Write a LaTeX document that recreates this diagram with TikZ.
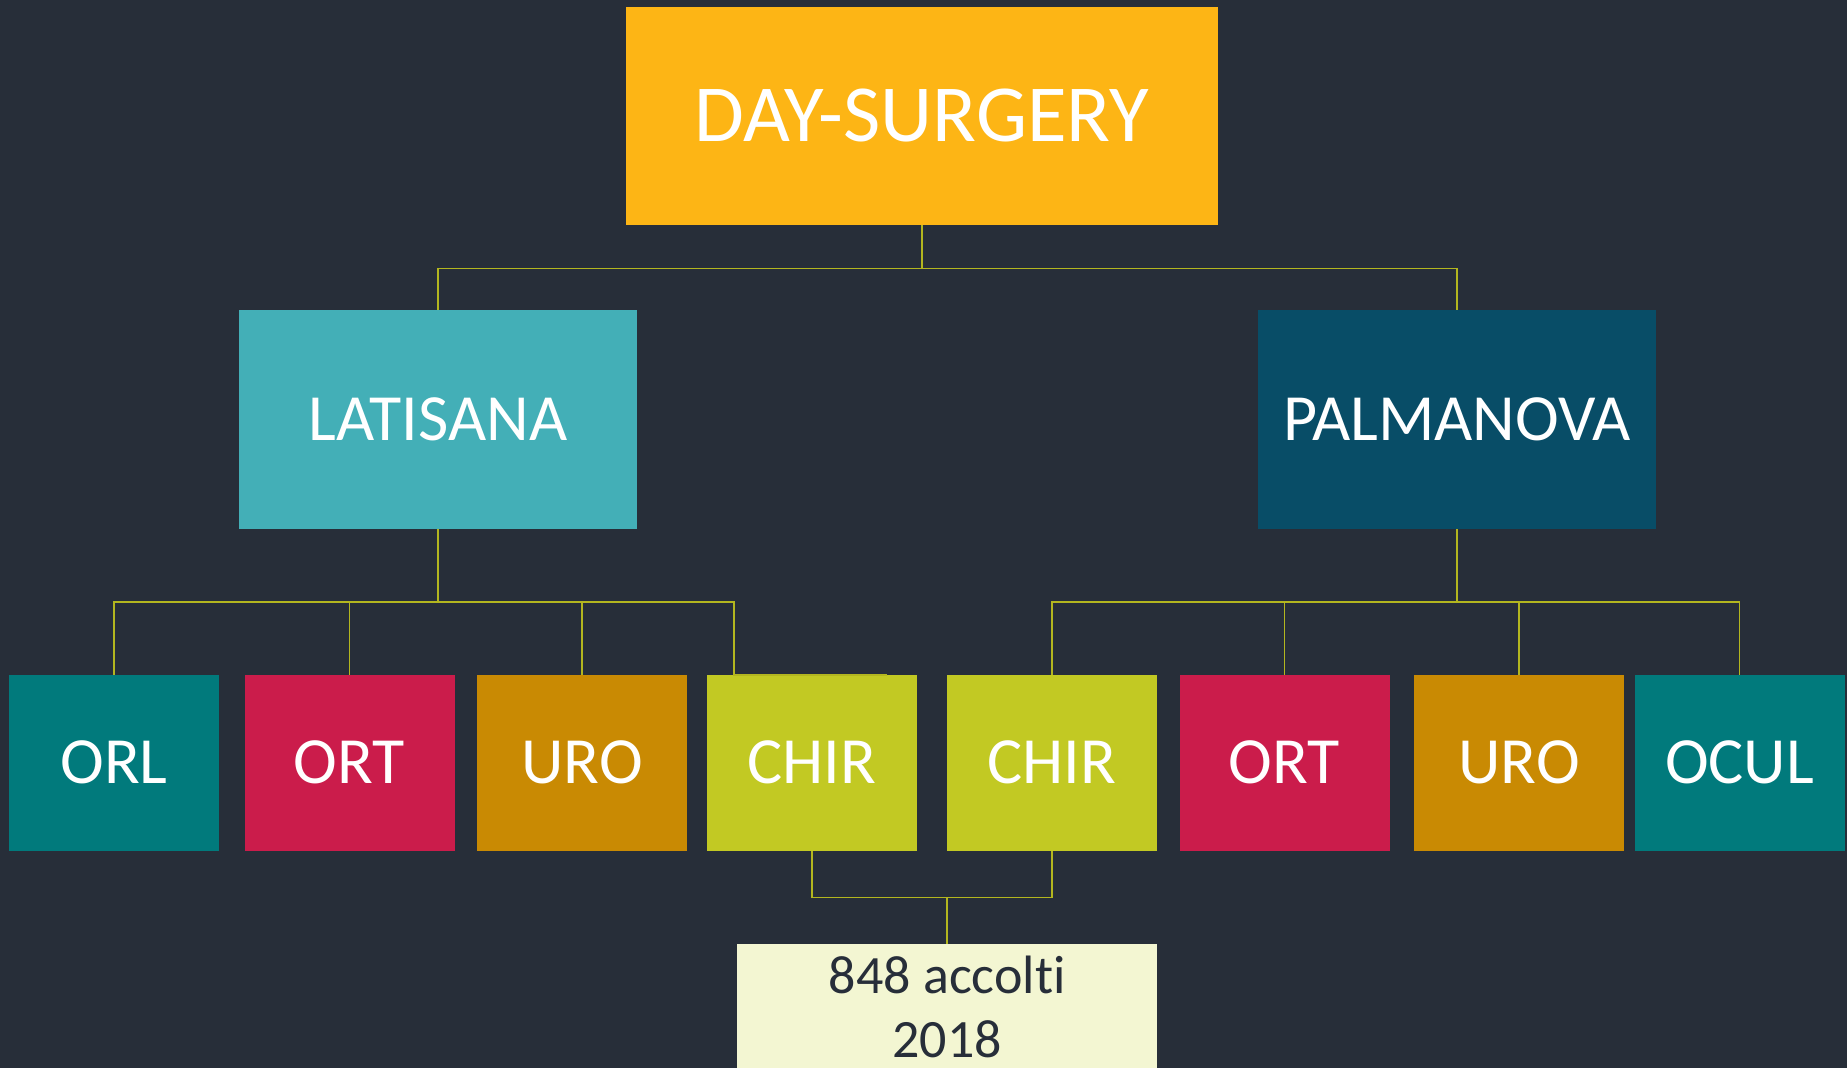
\documentclass[tikz,border=0pt]{standalone}
\usepackage{fontspec}
\setmainfont[Ligatures=NoCommon]{Carlito}
\definecolor{bg}{HTML}{272E39}
\definecolor{dayc}{HTML}{FDB515}
\definecolor{latc}{HTML}{43AFB7}
\definecolor{palc}{HTML}{084D67}
\definecolor{tealc}{HTML}{017A7C}
\definecolor{ortc}{HTML}{CB1C4B}
\definecolor{uroc}{HTML}{C98A03}
\definecolor{chirc}{HTML}{C2C923}
\definecolor{botc}{HTML}{F3F6D2}
\definecolor{connc}{HTML}{B3B61F}
\begin{document}
\begin{tikzpicture}[x=1pt,y=-1pt,
  box/.style={rectangle, inner sep=0pt, text=white, anchor=center},
  lvltwo/.style={box, minimum width=398pt, minimum height=219pt, font=\fontsize{66}{72}\selectfont},
  lvlthree/.style={box, minimum width=210pt, minimum height=175.5pt, font=\fontsize{66}{72}\selectfont},
  conn/.style={draw=connc, line width=1.6pt},
  bottext/.style={inner sep=0pt, anchor=base, text=bg, font=\fontsize{54}{60}\selectfont}]
\fill[bg] (0,0) rectangle (1847,1068);
\useasboundingbox (0,0) rectangle (1847,1068);
% nodes
\node[box, fill=dayc, minimum width=592pt, minimum height=218pt, font=\fontsize{81}{88}\selectfont] (day) at (921.7,116) {\raisebox{-3pt}{DAY-SURGERY}};
\node[lvltwo, fill=latc] (lat) at (438,419.5) {LATISANA};
\node[lvltwo, fill=palc] (pal) at (1457,419.5) {PALMANOVA};
\node[lvlthree, fill=tealc] (orl) at (114,762.8) {ORL};
\node[lvlthree, fill=ortc] (orta) at (349.5,762.8) {ORT};
\node[lvlthree, fill=uroc] (uroa) at (582,762.8) {URO};
\node[lvlthree, fill=chirc] (chira) at (812,762.8) {CHIR};
\node[lvlthree, fill=chirc] (chirb) at (1052,762.8) {CHIR};
\node[lvlthree, fill=ortc] (ortb) at (1284.5,762.8) {ORT};
\node[lvlthree, fill=uroc] (urob) at (1519,762.8) {URO};
\node[lvlthree, fill=tealc] (ocul) at (1739.5,762.8) {OCUL};
\node[box, fill=botc, minimum width=419.5pt, minimum height=250pt, anchor=north] (bot) at (947.2,943.6) {};
\node[bottext] (bottxta) at (947.2,993) {848 accolti};
\node[bottext] (bottxtb) at (947.2,1057) {2018};
% junctions
\coordinate (jtop) at (921.7,268.6);
\coordinate (jl) at (438,602);
\coordinate (jr) at (1457,602);
\coordinate (ca) at (734,675);
\coordinate (cae) at (887,675);
\coordinate (jb) at (947.2,897.6);
% connectors
\draw[conn] (day.south) -- (jtop);
\draw[conn] (lat.north) |- (jtop);
\draw[conn] (pal.north) |- (jtop);
\draw[conn] (lat.south) -- (jl);
\draw[conn] (orl.north) |- (jl);
\draw[conn] (orta.north) |- (jl);
\draw[conn] (uroa.north) |- (jl);
\draw[conn] (cae) -- (ca) |- (jl);
\draw[conn] (pal.south) -- (jr);
\draw[conn] (chirb.north) |- (jr);
\draw[conn] (ortb.north) |- (jr);
\draw[conn] (urob.north) |- (jr);
\draw[conn] (ocul.north) |- (jr);
\draw[conn] (chira.south) |- (jb);
\draw[conn] (chirb.south) |- (jb);
\draw[conn] (jb) -- (bot.north);
\end{tikzpicture}
\end{document}
